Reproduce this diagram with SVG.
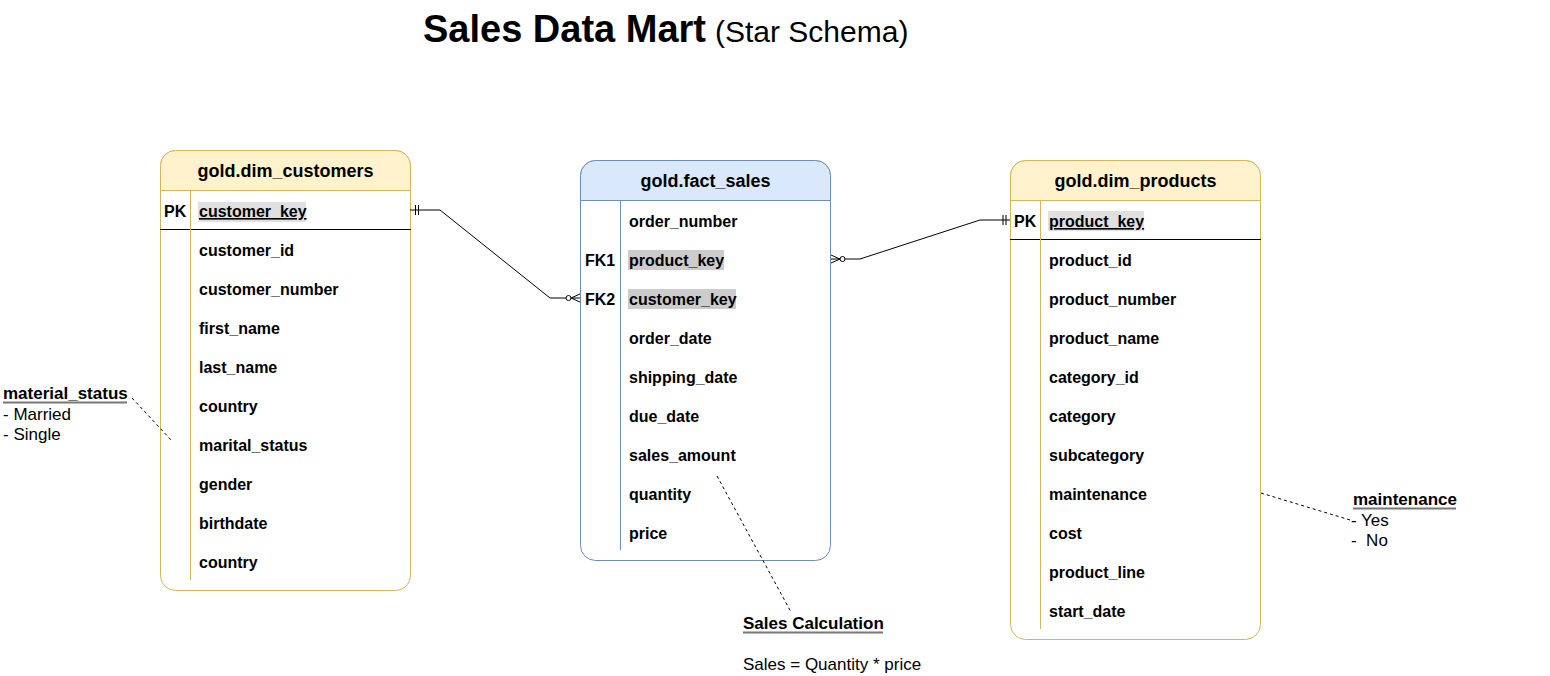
<svg xmlns="http://www.w3.org/2000/svg" width="1550" height="676" viewBox="0 0 1550 676">
<style>
text{font-family:"Liberation Sans",Arial,sans-serif;fill:#000}
.title{font-size:38px;font-weight:bold}
.sub{font-size:30px;font-weight:normal}
.hdr{font-size:18px;font-weight:bold;text-anchor:middle}
.fld{font-size:16px;font-weight:bold}
.pk{text-decoration:underline}
.note{font-size:17px}
.noteb{font-size:17px;font-weight:bold}
.ul{stroke:#777;stroke-width:2}
.yb{fill:#fff;stroke:#d6b656;stroke-width:1}
.yh{fill:#fff2cc;stroke:#d6b656;stroke-width:1}
.bb{fill:#fff;stroke:#6c8ebf;stroke-width:1}
.bh{fill:#dae8fc;stroke:#6c8ebf;stroke-width:1}
.conn{fill:none;stroke:#000;stroke-width:1}
.dash{fill:none;stroke:#000;stroke-width:1;stroke-dasharray:3 3}
.hlpk{fill:#e0e0e0}
.hlfk{fill:#cccccc}
</style>

<g id="title">
<text x="423" y="42"><tspan class="title">Sales Data Mart</tspan><tspan class="sub" dx="9">(Star Schema)</tspan></text>
</g>

<g id="dim_customers">
<rect class="yb" x="160.5" y="150.5" width="250" height="440" rx="15"/>
<path class="yh" d="M160.5,190.5 V165.5 A15,15 0 0 1 175.5,150.5 H395.5 A15,15 0 0 1 410.5,165.5 V190.5 Z"/>
<line x1="160" y1="229.5" x2="411" y2="229.5" stroke="#000"/>
<line x1="190.5" y1="190.5" x2="190.5" y2="580" stroke="#d6b656"/>
<text class="hdr" x="285.5" y="177">gold.dim_customers</text>
<rect class="hlpk" x="198" y="202" width="108" height="20"/>
<text class="fld" x="164" y="217">PK</text>
<text class="fld pk" x="199" y="217">customer_key</text>
<text class="fld" x="199" y="256">customer_id</text>
<text class="fld" x="199" y="295">customer_number</text>
<text class="fld" x="199" y="334">first_name</text>
<text class="fld" x="199" y="373">last_name</text>
<text class="fld" x="199" y="412">country</text>
<text class="fld" x="199" y="451">marital_status</text>
<text class="fld" x="199" y="490">gender</text>
<text class="fld" x="199" y="529">birthdate</text>
<text class="fld" x="199" y="568">country</text>
</g>

<g id="fact_sales">
<rect class="bb" x="580.5" y="160.5" width="250" height="400" rx="15"/>
<path class="bh" d="M580.5,200.5 V175.5 A15,15 0 0 1 595.5,160.5 H815.5 A15,15 0 0 1 830.5,175.5 V200.5 Z"/>
<line x1="620.5" y1="200.5" x2="620.5" y2="550" stroke="#6c8ebf"/>
<text class="hdr" x="705.5" y="187">gold.fact_sales</text>
<rect class="hlfk" x="628" y="250" width="96" height="20"/>
<rect class="hlfk" x="628" y="289" width="108" height="20"/>
<text class="fld" x="629" y="227">order_number</text>
<text class="fld" x="585" y="266">FK1</text>
<text class="fld" x="629" y="266">product_key</text>
<text class="fld" x="585" y="305">FK2</text>
<text class="fld" x="629" y="305">customer_key</text>
<text class="fld" x="629" y="344">order_date</text>
<text class="fld" x="629" y="383">shipping_date</text>
<text class="fld" x="629" y="422">due_date</text>
<text class="fld" x="629" y="461">sales_amount</text>
<text class="fld" x="629" y="500">quantity</text>
<text class="fld" x="629" y="539">price</text>
</g>

<g id="dim_products">
<rect class="yb" x="1010.5" y="160.5" width="250" height="479" rx="15"/>
<path class="yh" d="M1010.5,200.5 V175.5 A15,15 0 0 1 1025.5,160.5 H1245.5 A15,15 0 0 1 1260.5,175.5 V200.5 Z"/>
<line x1="1010" y1="239.5" x2="1261" y2="239.5" stroke="#000"/>
<line x1="1040.5" y1="200.5" x2="1040.5" y2="629" stroke="#d6b656"/>
<text class="hdr" x="1135.5" y="187">gold.dim_products</text>
<rect class="hlpk" x="1048" y="211" width="96" height="20"/>
<text class="fld" x="1014" y="227">PK</text>
<text class="fld pk" x="1049" y="227">product_key</text>
<text class="fld" x="1049" y="266">product_id</text>
<text class="fld" x="1049" y="305">product_number</text>
<text class="fld" x="1049" y="344">product_name</text>
<text class="fld" x="1049" y="383">category_id</text>
<text class="fld" x="1049" y="422">category</text>
<text class="fld" x="1049" y="461">subcategory</text>
<text class="fld" x="1049" y="500">maintenance</text>
<text class="fld" x="1049" y="539">cost</text>
<text class="fld" x="1049" y="578">product_line</text>
<text class="fld" x="1049" y="617">start_date</text>
</g>

<g id="connectors">
<path class="conn" d="M410,210 H440 L550,298 H566"/>
<line class="conn" x1="415.5" y1="205" x2="415.5" y2="215"/>
<line class="conn" x1="418.5" y1="205" x2="418.5" y2="215"/>
<circle cx="568.5" cy="298" r="2.5" fill="#fff" stroke="#000"/>
<path class="conn" d="M571,298 H580 M571,298 L580,294 M571,298 L580,302"/>

<path class="conn" d="M845,259 H860 L980,220 H1010"/>
<line class="conn" x1="1003" y1="215" x2="1003" y2="225"/>
<line class="conn" x1="1006" y1="215" x2="1006" y2="225"/>
<circle cx="842.5" cy="259" r="2.5" fill="#fff" stroke="#000"/>
<path class="conn" d="M840,259 H831 M840,259 L831,255 M840,259 L831,263"/>

<line class="dash" x1="132" y1="398" x2="172" y2="441"/>
<line class="dash" x1="1261" y1="493" x2="1350" y2="520"/>
<line class="dash" x1="717" y1="476" x2="791" y2="612"/>
</g>

<g id="note_marital">
<text class="noteb" x="3" y="399">material_status</text>
<line class="ul" x1="3" y1="402.5" x2="127" y2="402.5"/>
<text class="note" x="3" y="420">- Married</text>
<text class="note" x="3" y="440">- Single</text>
</g>

<g id="note_maintenance">
<text class="noteb" x="1353" y="505">maintenance</text>
<line class="ul" x1="1353" y1="508.5" x2="1456" y2="508.5"/>
<text class="note" x="1351" y="526">- Yes</text>
<text class="note" x="1351" y="546" xml:space="preserve">-  No</text>
</g>

<g id="note_sales">
<text class="noteb" x="743" y="629">Sales Calculation</text>
<line class="ul" x1="743" y1="632.5" x2="883" y2="632.5"/>
<text class="note" x="743" y="670">Sales = Quantity * price</text>
</g>
</svg>
